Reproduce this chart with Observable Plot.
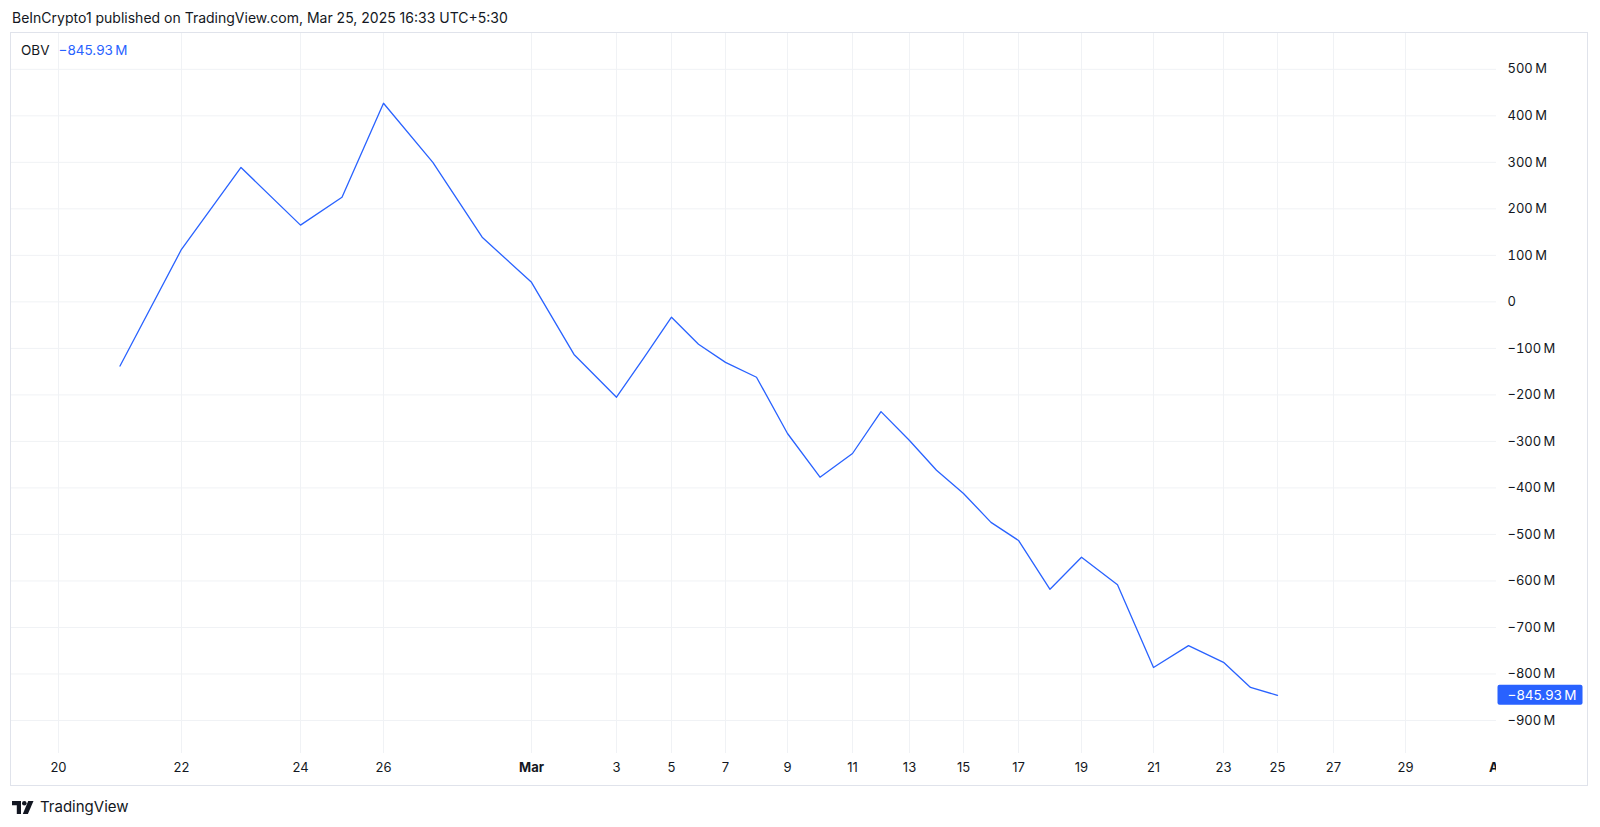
<!DOCTYPE html>
<html>
<head>
<meta charset="utf-8">
<script src="https://cdn.jsdelivr.net/npm/d3@7"></script>
<script src="https://cdn.jsdelivr.net/npm/@observablehq/plot@0.6"></script>
<style>
  body { margin: 0; background: #fff; font-family: Inter, "Open Sans", sans-serif; color: #131722; }
  #page { position: relative; width: 1600px; height: 827px; overflow: hidden; background: #fff; }
  #chart { position: absolute; left: 0; top: 0; }
  .frame { position: absolute; left: 10px; top: 32px; width: 1578px; height: 754px; border: 1px solid #e0e3eb; box-sizing: border-box; pointer-events: none; }
  .header { position: absolute; left: 12px; top: 8px; font-size: 14px; line-height: 20px; white-space: nowrap; }
  .legend { position: absolute; left: 21px; top: 41px; font-size: 13.5px; line-height: 18px; white-space: nowrap; }
  .legend .val { color: #2962ff; margin-left: 9px; }
  .footer { position: absolute; left: 12px; top: 796px; display: flex; align-items: center; gap: 6px; font-size: 15px; line-height: 22px; }
</style>
</head>
<body>
<div id="page">
  <div id="chart"></div>
  <div class="frame"></div>
  <div class="header">BeInCrypto1 published on TradingView.com, Mar 25, 2025 16:33 UTC+5:30</div>
  <div class="legend"><span id="lg-name"></span><span class="val" id="lg-val"></span></div>
  <div class="footer">
    <svg width="22" height="13" viewBox="0 0 22 13">
      <path d="M0 0h9v13h-4.2v-8.8h-4.8z" fill="#131722"/>
      <circle cx="12.3" cy="2.3" r="2.3" fill="#131722"/>
      <path d="M16.2 0h5.3l-5.6 13h-5.1z" fill="#131722"/>
    </svg>
    <span>TradingView</span>
  </div>
</div>
<script>
// ---------- Data (OBV, millions) ----------
const seriesName = "OBV";
const days = [
  "2025-02-21","2025-02-22","2025-02-23","2025-02-24","2025-02-25","2025-02-26","2025-02-27","2025-02-28",
  "2025-03-01","2025-03-02","2025-03-03","2025-03-04","2025-03-05","2025-03-06","2025-03-07","2025-03-08",
  "2025-03-09","2025-03-10","2025-03-11","2025-03-12","2025-03-13","2025-03-14","2025-03-15","2025-03-16",
  "2025-03-17","2025-03-18","2025-03-19","2025-03-20","2025-03-21","2025-03-22","2025-03-23","2025-03-24",
  "2025-03-25"
];
const obv = [
  -138, 113, 289, 165, 225, 427, 300, 139,
  42, -113, -205, -120, -33, -91, -130, -162,
  -283, -377, -326, -236, -298, -362, -412, -474,
  -513, -618, -549, -608, -786, -739, -775, -829,
  -845.93
];
const tickDays = [
  "2025-02-20","2025-02-22","2025-02-24","2025-02-26","2025-03-01","2025-03-03","2025-03-05","2025-03-07",
  "2025-03-09","2025-03-11","2025-03-13","2025-03-15","2025-03-17","2025-03-19","2025-03-21","2025-03-23",
  "2025-03-25","2025-03-27","2025-03-29","2025-04-01"
];
const yTicks = [500, 400, 300, 200, 100, 0, -100, -200, -300, -400, -500, -600, -700, -800, -900];

// ---------- Layout: the time axis of the screenshot is not evenly spaced ----------
const tickPx = [58, 181, 300, 383, 531, 616, 671, 725, 787, 852, 909, 963, 1018, 1081, 1153, 1223, 1277, 1333, 1405, 1500];
const BLUE = "#2962ff";
const GRID = "#f0f2f5";
const INK = "#131722";

const parse = d3.utcParse("%Y-%m-%d");
const data = days.map((d, i) => ({ date: parse(d), obv: obv[i] }));
const ticks = tickDays.map(parse);
const dayTicks = ticks.filter(d => d.getUTCDate() !== 1);
const monthTicks = ticks.filter(d => d.getUTCDate() === 1);
const last = data[data.length - 1];

const fmtM = v => v === 0 ? "0" : (v < 0 ? "\u2212" : "") + Math.abs(v) + "\u2009M";
const fmtM2 = v => (v < 0 ? "\u2212" : "") + d3.format(".2f")(Math.abs(v)) + "\u2009M";

document.getElementById("lg-name").textContent = seriesName;
document.getElementById("lg-val").textContent = fmtM2(last.obv);

const chart = Plot.plot({
  width: 1600, height: 827,
  marginLeft: 11, marginRight: 104, marginTop: 33, marginBottom: 74,
  style: { fontFamily: "Inter, 'Open Sans', sans-serif", fontSize: "13px", color: INK, background: "transparent" },
  x: { type: "utc", domain: ticks, range: tickPx, axis: null },
  y: { domain: [-971, 577], axis: null },
  marks: [
    Plot.ruleX(ticks, { stroke: GRID, strokeWidth: 1, clip: true }),
    Plot.ruleY(yTicks, { stroke: GRID, strokeWidth: 1 }),
    Plot.line(data, { x: "date", y: "obv", stroke: BLUE, strokeWidth: 1.3 }),
    Plot.axisY(yTicks, { anchor: "right", tickSize: 0, tickPadding: 11, tickFormat: fmtM, label: null, fontSize: 13, fill: INK }),
    Plot.text(dayTicks, { x: d => d, frameAnchor: "bottom", dy: 18, text: d => String(d.getUTCDate()), fontSize: 13, fill: INK }),
    Plot.text(monthTicks, { x: d => d, frameAnchor: "bottom", dy: 18, text: d => d3.utcFormat("%b")(d), fontSize: 13, fontWeight: "bold", fill: INK }),
    Plot.text([last], { y: "obv", frameAnchor: "right", dx: 11, textAnchor: "start", text: d => fmtM2(d.obv), fontSize: 13.5, fill: "white" })
  ]
});
document.getElementById("chart").appendChild(chart);

// clip month labels that run under the price scale
const svg = d3.select(chart);
const clipId = "time-clip";
svg.append("defs").append("clipPath").attr("id", clipId)
  .append("rect").attr("x", 0).attr("y", 0).attr("width", 1496).attr("height", 827);
svg.selectAll("text").filter(function () { return this.textContent === "Apr"; }).each(function () {
  const g = this.parentNode;
  const wrap = document.createElementNS("http://www.w3.org/2000/svg", "g");
  wrap.setAttribute("clip-path", `url(#${clipId})`);
  g.parentNode.insertBefore(wrap, g);
  wrap.appendChild(g);
});

// blue box behind the last value on the price scale (same local frame as the text)
svg.selectAll("text").filter(function () { return this.textContent === fmtM2(last.obv); }).each(function () {
  const b = this.getBBox();
  const cy = b.y + b.height / 2;
  const r = document.createElementNS("http://www.w3.org/2000/svg", "rect");
  r.setAttribute("x", b.x - 10);
  r.setAttribute("y", cy - 10);
  r.setAttribute("width", b.width + 16);
  r.setAttribute("height", 20);
  r.setAttribute("rx", 2);
  r.setAttribute("fill", BLUE);
  const t = this.getAttribute("transform");
  if (t) r.setAttribute("transform", t);
  this.parentNode.insertBefore(r, this);
});
</script>
</body>
</html>
